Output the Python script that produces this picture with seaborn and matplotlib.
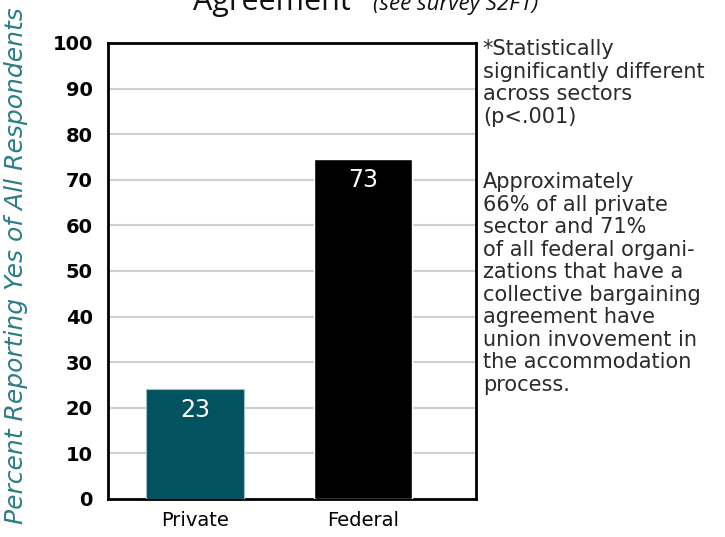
import numpy as np
import pandas as pd
import matplotlib
matplotlib.use("Agg")
import matplotlib.pyplot as plt
import seaborn as sns

# values
sectors = ['Private', 'Federal']
bar_heights = [24, 74.5]
bar_labels = ['23', '73']
bar_colors = ['#02525f', '#000000']
y_ticks = [0, 10, 20, 30, 40, 50, 60, 70, 80, 90, 100]

note_sig = "*Statistically\nsignificantly different\nacross sectors\n(p<.001)"
note_union = ("Approximately\n66% of all private\nsector and 71%\nof all federal organi-\n"
              "zations that have a\ncollective bargaining\nagreement have\n"
              "union invovement in\nthe accommodation\nprocess.")

df = pd.DataFrame({'Sector': sectors, 'Percent': bar_heights})

sns.set_style('white')
plt.rcParams['font.family'] = ['DejaVu Sans']

fig = plt.figure(figsize=(7.25, 5.37), dpi=100)
ax = fig.add_axes([0.149, 0.071, 0.507, 0.849])

sns.barplot(data=df, x='Sector', y='Percent', hue='Sector', palette=bar_colors,
            width=0.585, saturation=1, legend=False, ax=ax, zorder=3)
ax.patches[0].set_edgecolor('#9fbfc6')
ax.patches[0].set_linewidth(0.8)

# value labels inside the bars
for i, p in enumerate(ax.patches):
    ax.text(p.get_x() + p.get_width() / 2, p.get_height() - 4.6, bar_labels[i],
            ha='center', va='center', color='white', fontsize=17)

ax.set_xlim(-0.517, 1.67)
ax.set_ylim(0, 100)
ax.set_yticks(y_ticks)
ax.set_yticklabels([str(t) for t in y_ticks], fontsize=14, fontweight='bold')
ax.tick_params(axis='y', length=0, pad=11, labelcolor='black')
ax.tick_params(axis='x', length=0, pad=9, labelsize=14, labelcolor='black')
ax.yaxis.grid(True, color='#d0d0d0', linewidth=1.5, zorder=0)
ax.set_axisbelow(True)
for s in ax.spines.values():
    s.set_color('black')
    s.set_linewidth(2)
ax.set_xlabel('')
ax.set_ylabel('')

fig.text(0.022, 0.505, 'Percent Reporting Yes of All Respondents', rotation=90,
         ha='center', va='center', fontsize=18, fontstyle='italic',
         color='#2b7d86')

# title (cut off at the top in the original)
fig.text(0.266, 1 - 10 / 537, 'Agreement', fontsize=22, family='Open Sans',
         ha='left', va='baseline', color='#111111')
fig.text(0.514, 1 - 10 / 537, '(see survey S2F1)', fontsize=16,
         family='Open Sans', fontstyle='italic', ha='left', va='baseline',
         color='#111111')

# side notes
fig.text(0.666, 1 - 39 / 537, note_sig, fontsize=15, va='top', ha='left',
         color='#2a2a2a', linespacing=1.16)
fig.text(0.666, 1 - 172 / 537, note_union, fontsize=15, va='top', ha='left',
         color='#2a2a2a', linespacing=1.16)

fig.savefig('out.png', dpi=100)
